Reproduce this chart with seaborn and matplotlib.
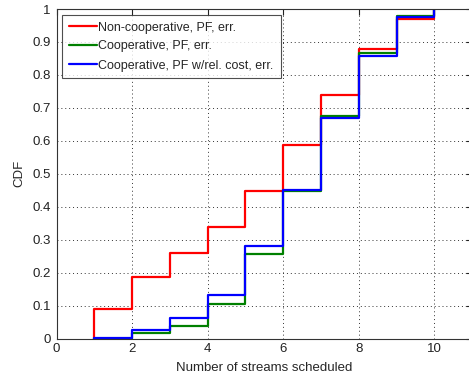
import matplotlib
matplotlib.use("Agg")
import matplotlib.pyplot as plt
import seaborn as sns
import pandas as pd
import numpy as np

streams = [1, 2, 3, 4, 5, 6, 7, 8, 9, 10]
noncoop_pf = [0.090, 0.188, 0.259, 0.340, 0.448, 0.587, 0.740, 0.880, 0.970, 1.0]
coop_pf = [0.000, 0.016, 0.038, 0.104, 0.257, 0.449, 0.675, 0.868, 0.980, 1.0]
coop_pf_rel = [0.003, 0.027, 0.062, 0.132, 0.282, 0.452, 0.668, 0.858, 0.975, 1.0]
labels = ["Non-cooperative, PF, err.", "Cooperative, PF, err.",
          "Cooperative, PF w/rel. cost, err."]
colors = ["#ff0000", "#008000", "#0000ff"]
ytick_labels = ["0", "0.1", "0.2", "0.3", "0.4", "0.5", "0.6", "0.7", "0.8", "0.9", "1"]

rows = []
for lab, vals in zip(labels, [noncoop_pf, coop_pf, coop_pf_rel]):
    xs = [streams[0]] + streams
    ys = [0.0] + vals
    for x, y in zip(xs, ys):
        rows.append({"x": x, "y": y, "series": lab})
df = pd.DataFrame(rows)

sns.set_style("white")
plt.rcParams['font.family'] = ['Liberation Sans', 'DejaVu Sans']

fig = plt.figure(figsize=(4.69, 3.79), dpi=100)
left, right, bottom, top = 56.5, 472.1, 338.7, 9.0
ax = fig.add_axes([left / 469, 1 - bottom / 379, (right - left) / 469, (bottom - top) / 379])

sns.lineplot(data=df, x="x", y="y", hue="series", hue_order=labels,
             palette=colors, estimator=None, sort=False,
             drawstyle="steps-post", linewidth=1.6, ax=ax)

ax.set_xlim(0, 11)
ax.set_ylim(0, 1)
ax.set_xticks([0, 2, 4, 6, 8, 10])
ax.set_yticks(np.round(np.arange(0, 1.01, 0.1), 1))
ax.set_yticklabels(ytick_labels)
ax.grid(True, linestyle=(0, (1, 3)), color="#333333", linewidth=0.7)
ax.tick_params(direction="in", length=4, top=True, right=True, labelsize=9.5,
               colors="#222222", width=0.8)
ax.tick_params(axis="y", pad=4)
ax.tick_params(axis="x", pad=3)
for s in ax.spines.values():
    s.set_color("#333333")
    s.set_linewidth(0.8)
ax.set_xlabel("Number of streams scheduled", fontsize=9.5, labelpad=5)
ax.set_ylabel("CDF", fontsize=9.5, labelpad=5)

leg = ax.legend(loc="upper left", fontsize=9, frameon=True, fancybox=False,
                bbox_to_anchor=(0.0, 1.0), borderaxespad=0.45,
                handlelength=2.25, handletextpad=0.1, labelspacing=0.56,
                borderpad=0.55, title=None)
leg.get_frame().set_edgecolor("#222222")
leg.get_frame().set_linewidth(0.8)

fig.savefig("out.png", dpi=100, facecolor="white")
